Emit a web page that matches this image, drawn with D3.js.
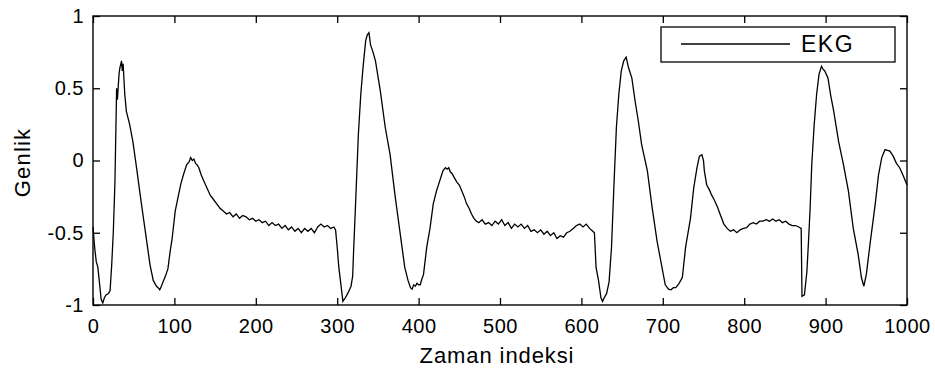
<!DOCTYPE html>
<html>
<head>
<meta charset="utf-8">
<script src="https://cdn.jsdelivr.net/npm/d3@7"></script>
<style>
  body { margin: 0; background: #fff; }
  text { font-family: "Liberation Sans", Arial, sans-serif; fill: #000; }
</style>
</head>
<body>
<script>
var width = 935,
    height = 377,
    plotL = 93, plotR = 907, plotT = 16, plotB = 305;

var xTicks = [0, 100, 200, 300, 400, 500, 600, 700, 800, 900, 1000],
    yTicks = [-1, -0.5, 0, 0.5, 1],
    yTickLabels = ["-1", "-0.5", "0", "0.5", "1"],
    seriesName = "EKG",
    xLabel = "Zaman indeksi",
    yLabel = "Genlik";

// sample index / amplitude
var sampleIdx = [
  0, 2, 4, 6, 8, 10, 12, 14, 16, 19, 21, 23, 25, 27, 29, 30, 32, 33, 35, 36,
  37, 39, 41, 45, 49, 54, 58, 62, 66, 70, 74, 78, 80, 82, 84, 86, 89, 92, 95, 97,
  101, 105, 108, 111, 115, 118, 120, 122, 124, 126, 128, 130, 133, 136, 140, 144, 148, 152, 156, 160,
  164, 168, 172, 176, 180, 184, 188, 192, 196, 200, 204, 208, 212, 216, 220, 224, 228, 232, 236, 240,
  244, 248, 252, 256, 260, 264, 268, 272, 276, 280, 284, 288, 292, 296, 298,
  300, 302, 305, 307, 310, 313, 317, 319, 320, 323, 326, 329, 332, 335, 337, 339, 341, 344, 347, 353,
  359, 365, 371, 377, 383, 387, 390, 392, 394, 396, 398, 400, 402, 404, 406, 410, 414, 418, 422, 426,
  430, 433, 435, 437, 439, 441, 444, 447, 450, 453, 456, 459, 462, 465, 468, 471, 474,
  478, 482, 486, 490, 494, 498, 502, 506, 510, 514, 518, 522, 526, 530, 534, 538, 542, 546, 550, 554,
  558, 562, 566, 570, 574, 578, 582, 586, 590, 594, 598, 602, 606, 610, 614,
  616, 618, 621, 624, 626, 629, 631, 634, 637, 640, 643, 646, 649, 652, 655, 658, 662, 666, 670, 674,
  681, 687, 693, 699, 703, 707, 710, 713, 716, 720, 724, 728, 734, 738, 742, 745, 748, 750, 751, 754,
  757, 760, 763, 767, 771, 775, 779, 783, 787, 791, 795, 799, 803, 807, 811, 815, 819, 823, 827, 831,
  835, 839, 843, 847, 851, 855, 859, 863, 867, 870,
  871, 874, 877, 879, 881, 883, 886, 889, 892, 895, 897, 899, 903, 906, 910, 916, 922, 928, 934, 940,
  944, 947, 950, 955, 961, 965, 969, 973, 976, 979, 983, 987, 991, 995, 1000
];

var ekg = [
  -0.46, -0.6, -0.7, -0.74, -0.85, -0.96, -0.985, -0.95, -0.93, -0.92, -0.9, -0.72, -0.49, -0.14, 0.5, 0.42, 0.6, 0.64, 0.69, 0.62,
  0.67, 0.46, 0.34, 0.25, 0.13, -0.07, -0.24, -0.4, -0.56, -0.72, -0.83, -0.87, -0.88, -0.895, -0.87, -0.84, -0.8, -0.75, -0.62, -0.55,
  -0.35, -0.24, -0.16, -0.1, -0.03, -0.01, 0.02, 0.0, 0.01, -0.02, -0.03, -0.05, -0.1, -0.14, -0.19, -0.24, -0.27, -0.3, -0.33, -0.35,
  -0.37, -0.36, -0.39, -0.37, -0.4, -0.38, -0.39, -0.41, -0.4, -0.42, -0.41, -0.43, -0.42, -0.45, -0.43, -0.45, -0.44, -0.47, -0.45, -0.48,
  -0.46, -0.49, -0.47, -0.5, -0.47, -0.49, -0.47, -0.5, -0.46, -0.44, -0.46, -0.45, -0.47, -0.46, -0.48,
  -0.6, -0.74, -0.88, -0.975, -0.95, -0.92, -0.87, -0.8, -0.65, -0.24, 0.18, 0.46, 0.66, 0.83, 0.87, 0.885, 0.8, 0.75, 0.69, 0.48,
  0.23, 0.04, -0.24, -0.49, -0.74, -0.83, -0.88, -0.89, -0.86, -0.87, -0.85, -0.86, -0.86, -0.82, -0.79, -0.6, -0.47, -0.3, -0.21, -0.14,
  -0.07, -0.05, -0.06, -0.05, -0.08, -0.09, -0.12, -0.15, -0.17, -0.21, -0.25, -0.3, -0.33, -0.37, -0.4, -0.42, -0.43,
  -0.41, -0.44, -0.43, -0.45, -0.42, -0.44, -0.41, -0.45, -0.43, -0.47, -0.44, -0.46, -0.44, -0.47, -0.45, -0.49, -0.48, -0.5, -0.48, -0.51,
  -0.49, -0.52, -0.5, -0.54, -0.52, -0.53, -0.5, -0.49, -0.47, -0.45, -0.44, -0.46, -0.44, -0.47, -0.49,
  -0.5, -0.74, -0.83, -0.95, -0.975, -0.94, -0.92, -0.84, -0.6, -0.17, 0.23, 0.46, 0.62, 0.69, 0.715, 0.64, 0.57, 0.41, 0.27, 0.11,
  -0.07, -0.33, -0.56, -0.74, -0.86, -0.89, -0.895, -0.88, -0.88, -0.85, -0.81, -0.6, -0.4, -0.19, -0.05, 0.03, 0.04, 0.0, -0.07, -0.17,
  -0.2, -0.24, -0.27, -0.32, -0.38, -0.44, -0.47, -0.49, -0.48, -0.5, -0.48, -0.47, -0.465, -0.44, -0.43, -0.44, -0.42, -0.42, -0.41, -0.42,
  -0.405, -0.42, -0.41, -0.43, -0.42, -0.44, -0.45, -0.45, -0.46, -0.47,
  -0.94, -0.93, -0.77, -0.56, -0.33, -0.03, 0.25, 0.46, 0.6, 0.653, 0.63, 0.62, 0.57, 0.46, 0.34, 0.13, -0.03, -0.21, -0.47, -0.65,
  -0.81, -0.87, -0.79, -0.56, -0.3, -0.1, 0.02, 0.075, 0.07, 0.065, 0.03, -0.02, -0.05, -0.1, -0.17
];

var x = d3.scaleLinear().domain([0, 1000]).range([plotL, plotR]);
var y = d3.scaleLinear().domain([-1, 1]).range([plotB, plotT]);

var svg = d3.select("body").append("svg")
    .attr("width", width)
    .attr("height", height);

var tickLen = 7;

// axes, matlab style: ticks inside on all four sides
svg.append("g")
    .attr("transform", "translate(0," + plotB + ")")
    .call(d3.axisBottom(x).tickValues(xTicks).tickSize(-tickLen).tickPadding(14).tickFormat(d3.format("d")))
    .call(function(g) { g.select(".domain").remove(); });

svg.append("g")
    .attr("transform", "translate(0," + plotT + ")")
    .call(d3.axisTop(x).tickValues(xTicks).tickSize(-tickLen).tickFormat(""))
    .call(function(g) { g.select(".domain").remove(); });

svg.append("g")
    .attr("transform", "translate(" + plotL + ",0)")
    .call(d3.axisLeft(y).tickValues(yTicks).tickSize(-tickLen).tickPadding(9)
      .tickFormat(function(d, i) { return yTickLabels[i]; }))
    .call(function(g) { g.select(".domain").remove(); });

svg.append("g")
    .attr("transform", "translate(" + plotR + ",0)")
    .call(d3.axisRight(y).tickValues(yTicks).tickSize(-tickLen).tickFormat(""))
    .call(function(g) { g.select(".domain").remove(); });

svg.selectAll(".tick line").attr("stroke", "#000").attr("stroke-width", 1.3);
svg.selectAll(".tick text").style("font-size", "20px").style("letter-spacing", "0.5px").attr("fill", "#000");

svg.append("rect")
    .attr("x", plotL).attr("y", plotT)
    .attr("width", plotR - plotL).attr("height", plotB - plotT)
    .attr("fill", "none").attr("stroke", "#000").attr("stroke-width", 1.4);

var line = d3.line()
    .x(function(d) { return x(d); })
    .y(function(d, i) { return y(ekg[i]); });

svg.append("path")
    .datum(sampleIdx)
    .attr("fill", "none")
    .attr("stroke", "#000")
    .attr("stroke-width", 1.3)
    .attr("d", line);

// legend
var lg = svg.append("g");
lg.append("rect")
    .attr("x", 661).attr("y", 27).attr("width", 234).attr("height", 35)
    .attr("fill", "#fff").attr("stroke", "#000").attr("stroke-width", 1.3);
lg.append("line")
    .attr("x1", 681).attr("x2", 790).attr("y1", 44).attr("y2", 44)
    .attr("stroke", "#000").attr("stroke-width", 1.3);
lg.append("text")
    .attr("x", 801).attr("y", 52)
    .style("font-size", "23px")
    .style("letter-spacing", "1.5px")
    .text(seriesName);

svg.append("text")
    .attr("x", (plotL + plotR) / 2 - 3).attr("y", 363)
    .attr("text-anchor", "middle")
    .style("font-size", "22px")
    .style("letter-spacing", "0.9px")
    .text(xLabel);

svg.append("text")
    .attr("transform", "translate(30," + ((plotT + plotB) / 2 + 2) + ") rotate(-90)")
    .attr("text-anchor", "middle")
    .style("font-size", "22px")
    .style("letter-spacing", "1.2px")
    .text(yLabel);
</script>
</body>
</html>
